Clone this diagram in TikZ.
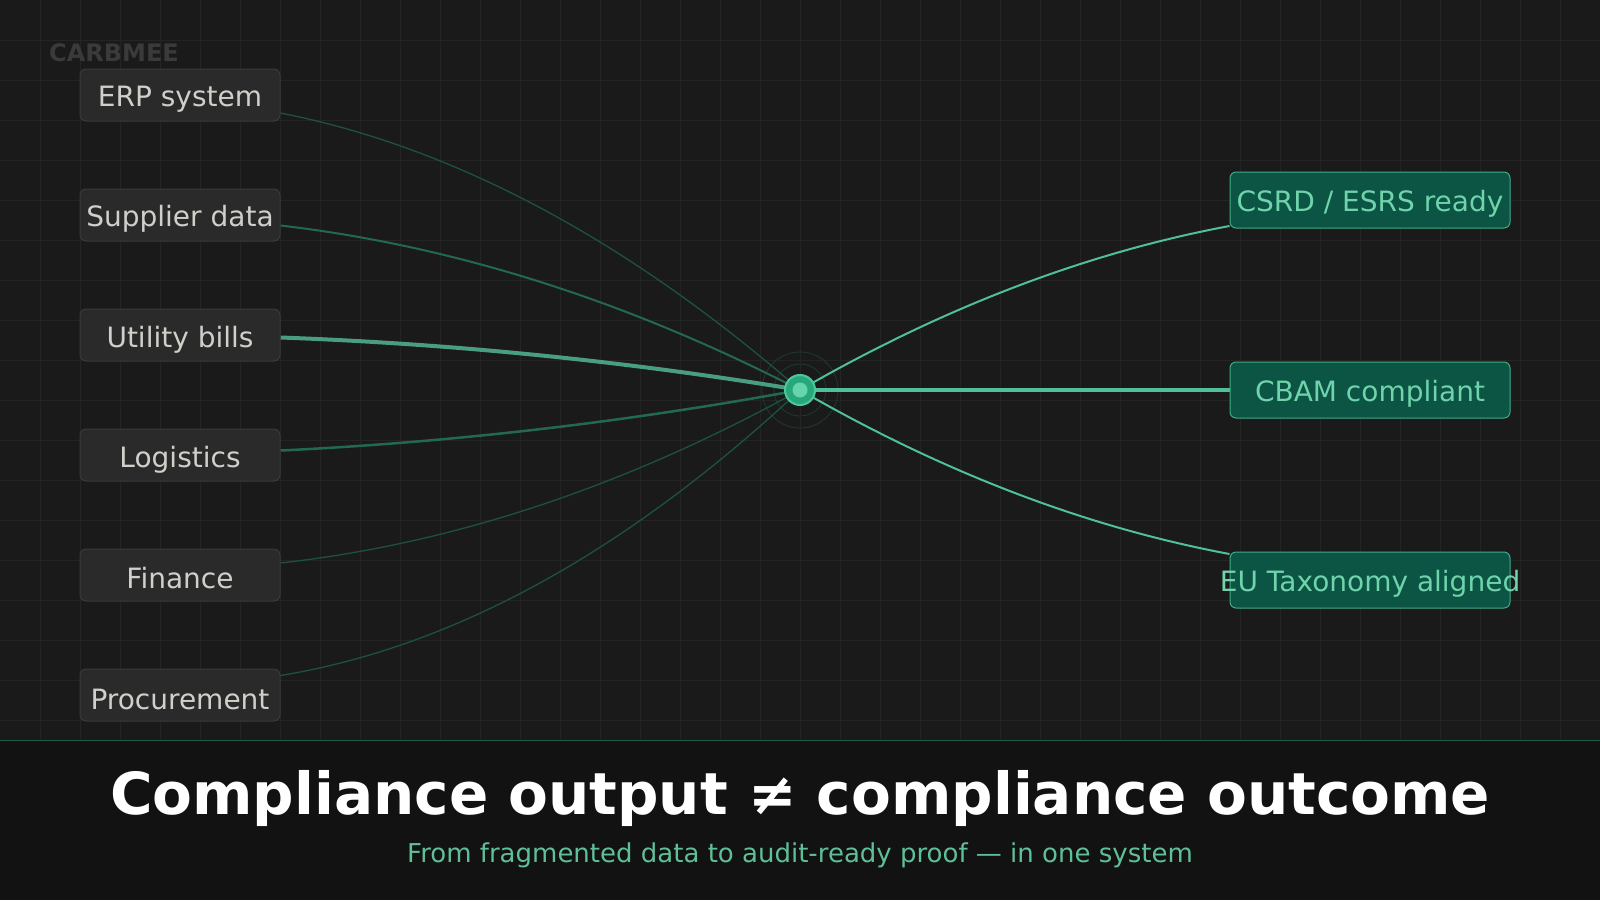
\documentclass[tikz,border=0pt]{standalone}
\usepackage{fontspec}
\setmainfont{DejaVu Sans}
\usetikzlibrary{calc}
\pgfdeclarelayer{bg}
\pgfsetlayers{bg,main}
\definecolor{bgc}{HTML}{1A1A1A}
\definecolor{gridc}{HTML}{242424}
\definecolor{bandc}{HTML}{111211}
\definecolor{bandline}{HTML}{1E5A46}
\definecolor{srcfill}{HTML}{2A2A2A}
\definecolor{srcborder}{HTML}{3A3A3A}
\definecolor{srctext}{HTML}{D0CFCA}
\definecolor{rfill}{HTML}{0C5443}
\definecolor{rborder}{HTML}{3FAE87}
\definecolor{rtext}{HTML}{6FD3AB}
\definecolor{subc}{HTML}{5FBF98}
\definecolor{logoc}{HTML}{3A3A3A}
\definecolor{hubfill}{HTML}{27A87C}
\definecolor{hubrim}{HTML}{4CC99B}
\definecolor{hubinner}{HTML}{66D4AD}
\definecolor{ringc}{HTML}{1F3A31}
\definecolor{ldim}{HTML}{1D5242}
\definecolor{lmid}{HTML}{23694F}
\definecolor{lbright}{HTML}{4A9E80}
\definecolor{rlinec}{HTML}{4FC097}
\tikzset{
  srcbox/.style={draw=srcborder, fill=srcfill, rounded corners=6pt, line width=1pt,
    minimum width=200pt, minimum height=52pt, inner sep=0pt, text=srctext,
    font=\fontsize{28pt}{33pt}\selectfont, text height=22pt, text depth=0pt},
  outbox/.style={draw=rborder, fill=rfill, rounded corners=6pt, line width=1pt,
    minimum width=280pt, minimum height=56pt, inner sep=0pt, text=rtext,
    font=\fontsize{28pt}{33pt}\selectfont, text height=23pt, text depth=0pt},
  thinline/.style={ldim, line width=1.3pt},
  midline/.style={lmid, line width=2pt},
  boldline/.style={lbright, line width=4pt},
  rline/.style={rlinec, line width=2pt},
}
\begin{document}
\begin{tikzpicture}[x=1pt,y=-1pt]
\useasboundingbox (0,0) rectangle (1600,900);
% nodes
\node[font=\bfseries\fontsize{24pt}{28pt}\selectfont, text=logoc, anchor=base west, inner sep=0pt] (logo) at (49,61.7) {CARBMEE};
\node[srcbox, text height=22pt] (erp) at (180,95) {ERP system};
\node[srcbox, text height=23.2pt] (sup) at (180,215) {Supplier data};
\node[srcbox, text height=24.4pt] (util) at (180,335) {Utility bills};
\node[srcbox, text height=25.6pt] (logi) at (180,455) {Logistics};
\node[srcbox, text height=26.8pt] (fin) at (180,575) {Finance};
\node[srcbox, text height=28pt] (proc) at (180,695) {Procurement};
\node[outbox] (csrd) at (1370,200) {CSRD / ESRS ready};
\node[outbox] (cbam) at (1370,390) {CBAM compliant};
\node[outbox] (eu) at (1370,580) {\makebox[0pt][c]{EU Taxonomy aligned}};
\node[circle, fill=hubfill, draw=hubrim, line width=2pt, minimum size=30pt, inner sep=0pt] (hub) at (800,390) {};
\fill[hubinner] (hub.center) circle (7.5pt);
\node[anchor=base, text=white, font=\bfseries\fontsize{58pt}{64pt}\selectfont] (title) at (800,814) {Compliance output ≠ compliance outcome};
\node[anchor=base, text=subc, font=\fontsize{26pt}{30pt}\selectfont] (sub) at (800,862) {From fragmented data to audit-ready proof — in one system};
\begin{pgfonlayer}{bg}
\fill[bgc] (0,0) rectangle (1600,740);
\foreach \x in {40,80,...,1560} \draw[gridc, line width=1pt] (\x,0) -- (\x,740);
\foreach \y in {40,80,...,720} \draw[gridc, line width=1pt] (0,\y) -- (1600,\y);
\fill[bandc] (0,740) rectangle (1600,900);
\draw[bandline, line width=1pt] (0,740) -- (1600,740);
\draw[ringc, line width=0.8pt] (hub.center) circle (26pt);
\draw[ringc, line width=0.8pt] (hub.center) circle (38pt);
% inputs
\draw[thinline] ($(erp.east)+(0,18)$) .. controls (453.3,147) and (626.7,239.3) .. (hub.center);
\draw[midline] ($(sup.east)+(0,10.5)$) .. controls (453.3,245.7) and (626.7,300.7) .. (hub.center);
\draw[boldline] ($(util.east)+(0,2.5)$) .. controls (453.3,343.8) and (626.7,361.3) .. (hub.center);
\draw[midline, line width=2.5pt] ($(logi.east)+(0,-4.5)$) .. controls (453.3,442.2) and (626.7,422) .. (hub.center);
\draw[thinline] ($(fin.east)+(0,-12)$) .. controls (453.3,543.7) and (626.7,486) .. (hub.center);
\draw[thinline] ($(proc.east)+(0,-19.5)$) .. controls (453.3,647.2) and (626.7,552) .. (hub.center);
% outputs
\draw[rline] (hub.center) .. controls (943.3,307.3) and (1086.7,252.7) .. ($(csrd.west)+(0,26)$);
\draw[rline, line width=3.5pt] (hub.center) -- (cbam.west);
\draw[rline] (hub.center) .. controls (943.3,472.7) and (1086.7,527.3) .. ($(eu.west)+(0,-26)$);
\end{pgfonlayer}
\end{tikzpicture}
\end{document}
